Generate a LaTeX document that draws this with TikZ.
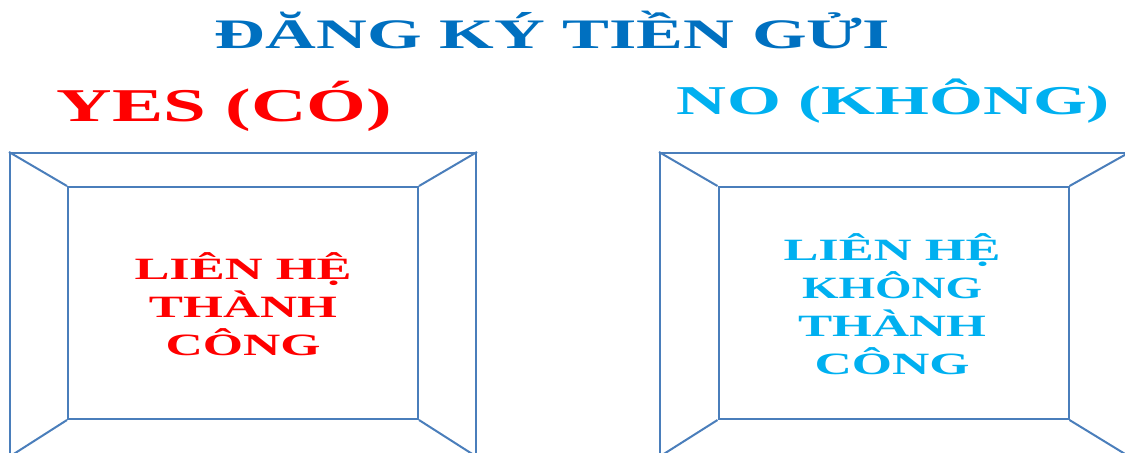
\documentclass[tikz,border=0pt]{standalone}
\usepackage{fontspec}
\setmainfont{Liberation Serif}
\usepackage{graphicx}
\definecolor{titleblue}{RGB}{0,112,192}
\definecolor{yesred}{RGB}{255,0,0}
\definecolor{noblue}{RGB}{0,176,240}
\definecolor{frameblue}{RGB}{74,126,187}
\newcommand{\stretchline}[2]{\resizebox{#1}{\height}{#2}}
\begin{document}
\begin{tikzpicture}[x=0.5pt,y=-0.5pt,
  frame/.style={draw=frameblue, line width=1pt, inner sep=0pt, minimum height=151.5pt},
  inframe/.style={draw=frameblue, line width=1pt, inner sep=0pt, minimum width=175pt, minimum height=116pt},
  boxtext/.style={align=center, font=\fontsize{15.5}{19}\selectfont\bfseries, inner sep=0pt},
  bevel/.style={draw=frameblue, line width=1pt}]
\useasboundingbox (0,0) rectangle (1125,452);
\clip (0,0) rectangle (1125,452);
% title and headings
\node[anchor=base, text=titleblue, font=\fontsize{21}{24}\selectfont\bfseries, inner sep=0pt] (title) at (552.5,48) {\stretchline{337.5pt}{ĐĂNG KÝ TIỀN GỬI}};
\node[anchor=base, text=yesred, font=\fontsize{23.5}{27}\selectfont\bfseries, inner sep=0pt] (yes) at (224.5,121) {\stretchline{167.5pt}{YES (CÓ)}};
\node[anchor=base, text=noblue, font=\fontsize{20.5}{24}\selectfont\bfseries, inner sep=0pt] (no) at (893.5,114) {\stretchline{216.5pt}{NO (KHÔNG)}};
% left bevel box
\node[frame, minimum width=233pt] (o1) at (243,304.5) {};
\node[inframe] (i1) at (243,303) {};
\draw[bevel] (o1.north west) -- (i1.north west);
\draw[bevel] (o1.north east) -- (i1.north east);
\draw[bevel] (o1.south west) -- (i1.south west);
\draw[bevel] (o1.south east) -- (i1.south east);
\node[boxtext, text=yesred] (t1) at (243,304) {\stretchline{108.5pt}{LIÊN HỆ}\\ \stretchline{94pt}{THÀNH}\\ \stretchline{77.5pt}{CÔNG}};
% right bevel box
\node[frame, minimum width=234.5pt] (o2) at (894.5,304.5) {};
\node[inframe] (i2) at (893.5,303) {};
\draw[bevel] (o2.north west) -- (i2.north west);
\draw[bevel] (o2.north east) -- (i2.north east);
\draw[bevel] (o2.south west) -- (i2.south west);
\draw[bevel] (o2.south east) -- (i2.south east);
\node[boxtext, text=noblue] (t2) at (892,304) {\stretchline{108.5pt}{LIÊN HỆ}\\ \stretchline{90pt}{KHÔNG}\\ \stretchline{94pt}{THÀNH}\\ \stretchline{77.5pt}{CÔNG}};
\end{tikzpicture}
\end{document}
